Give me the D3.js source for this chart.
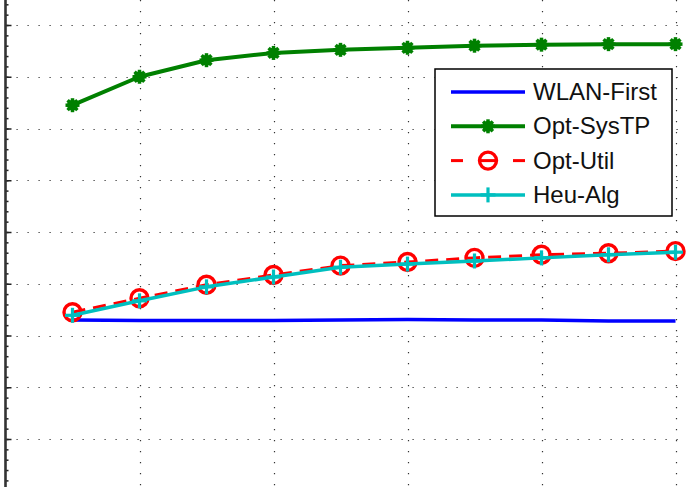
<!DOCTYPE html>
<html>
<head>
<meta charset="utf-8">
<script src="https://d3js.org/d3.v7.min.js"></script>
<style>
html, body { margin:0; padding:0; background:#fff; overflow:hidden; }
</style>
</head>
<body>
<div id="chart"></div>
<script>
/** data **/
var xValues = [1,2,3,4,5,6,7,8,9,10];
var wlanFirst = [3.30,3.29,3.29,3.29,3.30,3.31,3.30,3.30,3.28,3.28];
var optSysTP  = [7.45,8.00,8.32,8.46,8.52,8.56,8.60,8.62,8.63,8.63];
var optUtil   = [3.45,3.72,3.98,4.17,4.35,4.42,4.50,4.56,4.59,4.63];
var heuAlg    = [3.39,3.67,3.94,4.13,4.32,4.38,4.44,4.50,4.56,4.61];
var seriesNames = ["WLAN-First","Opt-SysTP","Opt-Util","Heu-Alg"];
var xTicks = [0,2,4,6,8,10];
var yTicks = [1,2,3,4,5,6,7,8,9];

function LineChart(_param){
	var param = _param || {};
	var chart = param.chart || {};
	chart.div = chart.div || "body";
	chart.width = chart.width || 686;
	chart.height = chart.height || 487;

	var colorArr = param.colors || ["#0000ff","#008000","#ff0000","#00bfbf"];

	var x = d3.scaleLinear().domain([0,10]).range([5.5, 675.5]);
	var y = d3.scaleLinear().domain([0,9]).range([490.75, 25]);

	var svg = d3.select(chart.div)
		.append("svg")
		.attr("width", chart.width)
		.attr("height", chart.height)
		.style("display","block");

	/** grid **/
	var grid = svg.append("g").attr("class","grid")
		.attr("stroke","#333")
		.attr("stroke-width",1.2)
		.attr("stroke-dasharray","1.2,9.8");

	grid.selectAll(".hgrid")
		.data(yTicks)
		.enter()
		.append("line")
		.attr("x1", x(0)).attr("x2", chart.width)
		.attr("y1", function(d){ return Math.round(y(d)) + 0.5; })
		.attr("y2", function(d){ return Math.round(y(d)) + 0.5; });

	grid.selectAll(".vgrid")
		.data(xTicks.slice(1))
		.enter()
		.append("line")
		.attr("y1", 0).attr("y2", chart.height)
		.attr("x1", function(d){ return Math.round(x(d)) + 0.5; })
		.attr("x2", function(d){ return Math.round(x(d)) + 0.5; });

	/** left axis (labels are outside the frame) **/
	var yAxis = d3.axisRight(y)
		.tickValues(yTicks)
		.tickSize(6)
		.tickFormat("");
	var yMinor = d3.axisRight(y)
		.tickValues(d3.range(0, 9.6, 0.2))
		.tickSize(3)
		.tickFormat("");

	var axisG = svg.append("g").attr("transform","translate(" + x(0) + ",0)");
	axisG.append("g").call(yMinor);
	axisG.append("g").call(yAxis);
	axisG.selectAll("path").remove();
	axisG.selectAll("line").attr("stroke","#222").attr("stroke-width",1.5);
	svg.append("line")
		.attr("x1", x(0)).attr("x2", x(0))
		.attr("y1", 0).attr("y2", chart.height)
		.attr("stroke","#333")
		.attr("stroke-width",2.6);

	var line = d3.line()
		.x(function(d){ return x(d[0]); })
		.y(function(d){ return y(d[1]); });

	function pairs(vals){
		return xValues.map(function(v, i){ return [v, vals[i]]; });
	}

	/** markers **/
	function star(g, cx, cy, color){
		var r = 7;
		[[0,1],[1,0],[0.7,0.7],[0.7,-0.7]].forEach(function(v){
			g.append("line")
				.attr("x1", cx - v[0]*r).attr("y1", cy - v[1]*r)
				.attr("x2", cx + v[0]*r).attr("y2", cy + v[1]*r)
				.attr("stroke", color).attr("stroke-width", 3.5);
		});
		g.append("circle").attr("cx",cx).attr("cy",cy).attr("r",5.5).attr("fill",color);
	}
	function ring(g, cx, cy, color){
		g.append("circle").attr("cx",cx).attr("cy",cy).attr("r",8.5)
			.attr("fill","none").attr("stroke",color).attr("stroke-width",3.4);
	}
	function plus(g, cx, cy, color){
		var r = 7.5;
		g.append("line").attr("x1",cx-r).attr("x2",cx+r).attr("y1",cy).attr("y2",cy)
			.attr("stroke",color).attr("stroke-width",3.2);
		g.append("line").attr("x1",cx).attr("x2",cx).attr("y1",cy-r).attr("y2",cy+r)
			.attr("stroke",color).attr("stroke-width",3.2);
	}

	var series = [
		{name:seriesNames[0], values:wlanFirst, color:colorArr[0], width:3.5, dash:null, marker:null},
		{name:seriesNames[1], values:optSysTP,  color:colorArr[1], width:4,   dash:null, marker:star},
		{name:seriesNames[2], values:optUtil,   color:colorArr[2], width:3,   dash:"13,8", marker:ring},
		{name:seriesNames[3], values:heuAlg,    color:colorArr[3], width:3.5, dash:null, marker:plus}
	];

	series.forEach(function(s){
		var g = svg.append("g").attr("class","series");
		g.append("path")
			.datum(pairs(s.values))
			.attr("d", line)
			.attr("fill","none")
			.attr("stroke", s.color)
			.attr("stroke-width", s.width)
			.attr("stroke-linejoin","round")
			.attr("stroke-dasharray", s.dash);
		if(s.marker){
			pairs(s.values).forEach(function(p){
				s.marker(g, x(p[0]), y(p[1]), s.color);
			});
		}
	});

	/** legend **/
	var lg = svg.append("g").attr("class","legend").attr("transform","translate(435,69)");
	lg.append("rect")
		.attr("width",237).attr("height",147)
		.attr("fill","#fff").attr("stroke","#000").attr("stroke-width",1.5);

	series.forEach(function(s, i){
		var ly = 23 + i*34.3;
		var row = lg.append("g");
		if(s.dash){
			[[16,28],[46,60],[78,90]].forEach(function(seg){
				row.append("line")
					.attr("x1",seg[0]).attr("x2",seg[1]).attr("y1",ly).attr("y2",ly)
					.attr("stroke",s.color).attr("stroke-width",s.width);
			});
		}else{
			row.append("line")
				.attr("x1",16).attr("x2",90).attr("y1",ly).attr("y2",ly)
				.attr("stroke",s.color).attr("stroke-width",s.width);
		}
		if(s.marker) s.marker(row, 53, ly, s.color);
		row.append("text")
			.attr("x",98).attr("y",ly + 8)
			.attr("font-family","'Liberation Sans', Arial, sans-serif")
			.attr("font-size","24px")
			.attr("fill","#111")
			.text(s.name);
	});
}

new LineChart({chart:{div:"#chart"}});
</script>
</body>
</html>
